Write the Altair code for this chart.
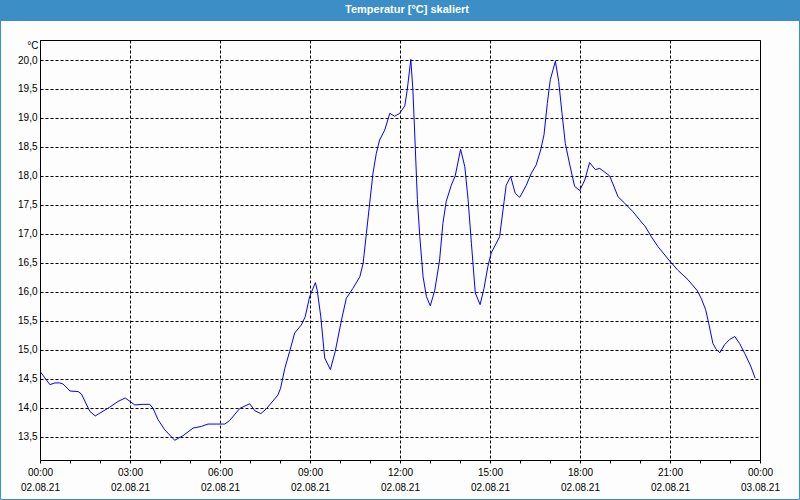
import altair as alt
import pandas as pd

# time of day in hours (02.08.21 00:00 = 0) and temperature in °C
hours = [0.00, 0.33, 0.50, 0.65, 0.77, 1.00, 1.27, 1.38, 1.66, 1.84, 2.32, 2.60, 2.84,
         3.16, 3.43, 3.66, 3.77, 3.93, 4.16, 4.49, 4.77, 5.10, 5.38, 5.60, 6.16, 6.32,
         6.66, 6.99, 7.16, 7.36, 7.54, 7.93, 8.02, 8.16, 8.32, 8.49, 8.71, 8.84, 8.99,
         9.18, 9.24, 9.36, 9.49, 9.68, 9.84, 10.04, 10.21, 10.43, 10.66, 10.77, 10.88,
         10.99, 11.10, 11.21, 11.32, 11.49, 11.66, 11.82, 11.99, 12.16, 12.24, 12.36,
         12.43, 12.49, 12.58, 12.66, 12.77, 12.88, 13.01, 13.16, 13.32, 13.43, 13.54,
         13.71, 13.84, 14.02, 14.16, 14.27, 14.38, 14.51, 14.67, 14.80, 14.93, 15.04,
         15.32, 15.47, 15.54, 15.69, 15.84, 15.99, 16.21, 16.38, 16.54, 16.69, 16.80,
         16.91, 17.01, 17.10, 17.18, 17.29, 17.40, 17.51, 17.66, 17.82, 17.99, 18.16,
         18.32, 18.51, 18.66, 18.99, 19.27, 19.49, 19.77, 20.07, 20.16, 20.38, 20.60,
         21.01, 21.27, 21.60, 21.91, 22.04, 22.19, 22.29, 22.43, 22.54, 22.66, 22.82,
         22.99, 23.16, 23.32, 23.49, 23.69, 23.84]
temps = [14.63, 14.40, 14.43, 14.43, 14.41, 14.29, 14.28, 14.24, 13.94, 13.86, 14.01, 14.11, 14.17,
         14.05, 14.06, 14.06, 13.99, 13.80, 13.62, 13.44, 13.52, 13.65, 13.68, 13.72, 13.72, 13.78,
         13.99, 14.07, 13.95, 13.90, 13.98, 14.22, 14.34, 14.68, 14.97, 15.29, 15.43, 15.57, 15.92,
         16.16, 16.03, 15.57, 14.86, 14.66, 14.97, 15.49, 15.89, 16.06, 16.26, 16.49, 17.01,
         17.53, 18.05, 18.39, 18.62, 18.79, 19.08, 19.03, 19.08, 19.21, 19.48, 20.01,
         19.48, 18.74, 17.59, 16.95, 16.26, 15.92, 15.76, 16.03, 16.55, 17.18, 17.56,
         17.84, 18.00, 18.46, 18.16, 17.59, 16.84, 15.98, 15.78, 16.06, 16.44, 16.67,
         16.95, 17.56, 17.84, 17.99, 17.70, 17.63, 17.84, 18.05, 18.19, 18.45, 18.71,
         19.25, 19.66, 19.83, 19.98, 19.63, 19.08, 18.56, 18.19, 17.82, 17.75, 17.93,
         18.23, 18.11, 18.13, 18.00, 17.64, 17.53, 17.38, 17.19, 17.14, 16.95, 16.78,
         16.52, 16.37, 16.21, 16.02, 15.89, 15.69, 15.46, 15.11, 15.01, 14.95, 15.09,
         15.18, 15.23, 15.11, 14.94, 14.72, 14.51]
y_ticks = [13.5, 14.0, 14.5, 15.0, 15.5, 16.0, 16.5, 17.0, 17.5, 18.0, 18.5, 19.0, 19.5, 20.0]
x_ticks = list(range(0, 25))
title_text = "Temperatur [°C] skaliert"

BLUE = "#3c8fc6"
FONT = "Liberation Sans"

df = pd.DataFrame({"h": hours, "t": temps})
one = pd.DataFrame({"a": [0]})

x_label = (
    "datum.value % 3 == 0 ? ["
    "((datum.value % 24) < 10 ? '0' : '') + (datum.value % 24) + ':00', "
    "(datum.value >= 24 ? '03.08.21' : '02.08.21')] : ''"
)

line = alt.Chart(df).mark_line(color="#0000ff", strokeWidth=1, clip=True).encode(
    x=alt.X(
        "h:Q",
        scale=alt.Scale(domain=[0, 24], nice=False, zero=False),
        axis=alt.Axis(
            values=x_ticks,
            title=None,
            labelExpr=x_label,
            labelOverlap=False,
            labelFlush=False,
            labelPadding=4,
            labelLineHeight=15,
            labelBaseline="top",
            tickSize=3,
            tickColor="black",
            grid=True,
            gridColor="black",
            gridDash=[3, 2],
            gridOpacity=alt.condition("datum.value % 3 == 0", alt.value(1), alt.value(0)),
        ),
    ),
    y=alt.Y(
        "t:Q",
        scale=alt.Scale(domain=[13.1, 20.345], nice=False, zero=False),
        axis=alt.Axis(
            values=y_ticks,
            labelExpr="replace(format(datum.value, '.1f'), '.', ',')",
            ticks=False,
            labelPadding=3,
            grid=True,
            gridColor="black",
            gridDash=[3, 2],
            title="°C",
            titleAngle=0,
            titleAlign="right",
            titleBaseline="middle",
            titleX=-2,
            titleY=5,
            titleFont=FONT,
            titleFontSize=10,
            titleFontWeight="normal",
            titleColor="#000",
        ),
    ),
)

bar = alt.Chart(one).mark_rect(color=BLUE, clip=False).encode(
    x=alt.value(-40), x2=alt.value(760), y=alt.value(-40), y2=alt.value(-19)
)
frame = alt.Chart(one).mark_rect(filled=False, stroke=BLUE, strokeWidth=1, clip=False).encode(
    x=alt.value(-39.5), x2=alt.value(759.5), y=alt.value(-40), y2=alt.value(459.5)
)
title = alt.Chart(one).mark_text(
    color="white", font=FONT, fontSize=11, fontWeight="bold", align="center", baseline="middle", clip=False
).encode(x=alt.value(367), y=alt.value(-30), text=alt.value(title_text))

chart = (
    alt.layer(bar, frame, line, title)
    .properties(
        width=720,
        height=420,
        autosize=alt.AutoSizeParams(type="none"),
        padding={"left": 40, "top": 40, "right": 40, "bottom": 40},
        background="#fcfdfc",
    )
    .configure_view(stroke="black", strokeWidth=1)
    .configure_axis(
        domainColor="black",
        labelFont=FONT,
        labelFontSize=10,
        labelColor="#000",
    )
)

chart.save("out.html", embed_options={"renderer": "svg", "actions": False})
